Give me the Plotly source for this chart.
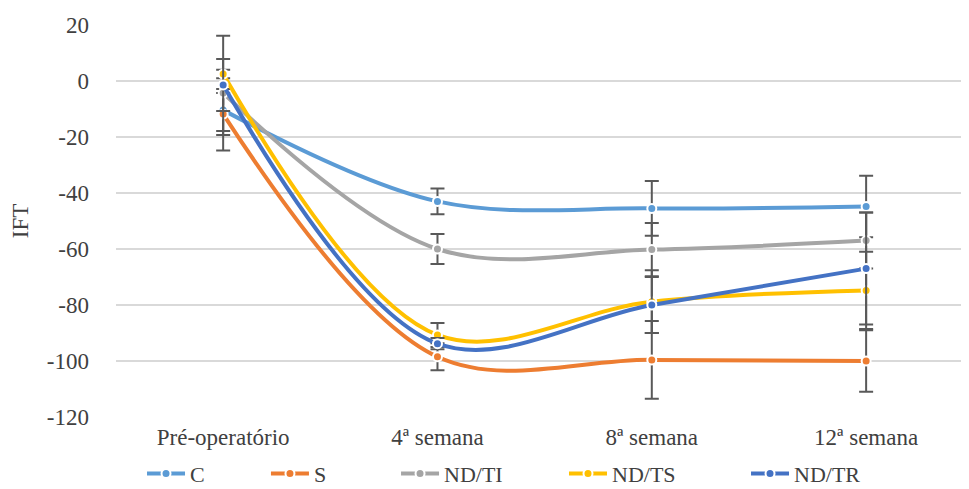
import plotly.graph_objects as go

categories = ["Pré-operatório", "4ª semana", "8ª semana", "12ª semana"]
series_names = ["C", "S", "ND/TI", "ND/TS", "ND/TR"]
colors = ["#5B9BD5", "#ED7D31", "#A5A5A5", "#FFC000", "#4472C4"]

y_tickvals = [20, 0, -20, -40, -60, -80, -100, -120]
y_ticktext = ["20", "0", "-20", "-40", "-60", "-80", "-100", "-120"]

c_vals = [-10.4, -43, -45.5, -44.8]
c_err = [7.5, 4.6, 9.8, 11]
s_vals = [-11.8, -98.5, -99.6, -100]
s_err = [7.5, 4.8, 13.9, 11]
ti_vals = [-4.3, -60, -60.2, -57]
ti_err = [20.5, 5.4, 9.5, 10]
ts_vals = [2.5, -90.7, -78.8, -74.8]
ts_err = [1.5, 4.3, 11.2, 13.8]
tr_vals = [-1.4, -93.8, -80, -67]
tr_err = [9.3, 2.0, 10, 20]

values = [c_vals, s_vals, ti_vals, ts_vals, tr_vals]
errors = [c_err, s_err, ti_err, ts_err, tr_err]

legend_x = [0.0305, 0.1758, 0.3283, 0.5252, 0.7386]

font_family = "Liberation Serif"
txt_color = "#404040"

fig = go.Figure()
for i, (name, vals, errs, col) in enumerate(zip(series_names, values, errors, colors)):
    lg = "legend" if i == 0 else f"legend{i+1}"
    fig.add_trace(go.Scatter(
        x=list(range(len(categories))), y=vals, name=name,
        mode="lines+markers",
        line=dict(color=col, width=4, shape="spline", smoothing=1.0),
        marker=dict(color=col, size=9, line=dict(color="white", width=2)),
        error_y=dict(type="data", array=errs, visible=True, color="#595959",
                     thickness=2, width=7),
        legend=lg,
    ))

layout_legends = {}
for i in range(5):
    key = "legend" if i == 0 else f"legend{i+1}"
    layout_legends[key] = dict(
        x=legend_x[i], y=0.032, xref="paper", yref="container",
        xanchor="left", yanchor="middle",
        orientation="h", bgcolor="rgba(0,0,0,0)",
        font=dict(family=font_family, size=22, color=txt_color),
        itemwidth=38, tracegroupgap=0,
    )

fig.update_layout(
    width=961, height=481,
    margin=dict(l=108, r=0, t=17, b=72, autoexpand=False),
    paper_bgcolor="white", plot_bgcolor="white",
    font=dict(family=font_family, size=23, color=txt_color),
    showlegend=True,
    xaxis=dict(
        tickmode="array", tickvals=list(range(len(categories))), ticktext=categories,
        range=[-0.5, 3.48], showgrid=False, zeroline=False, showline=False,
        ticks="", automargin=False, ticklabelstandoff=4,
        tickfont=dict(size=23, family=font_family, color=txt_color),
    ),
    yaxis=dict(
        range=[-120, 20], tickmode="array", tickvals=y_tickvals, ticktext=y_ticktext,
        showgrid=True, gridcolor="#D9D9D9", gridwidth=1.5,
        zeroline=False, showline=False, ticks="", automargin=False,
        ticklabelstandoff=26,
        tickfont=dict(size=23, family=font_family, color=txt_color),
        title=dict(text="IFT", font=dict(size=23, family=font_family, color=txt_color), standoff=13),
    ),
    **layout_legends,
)

fig.write_html("out.html")
